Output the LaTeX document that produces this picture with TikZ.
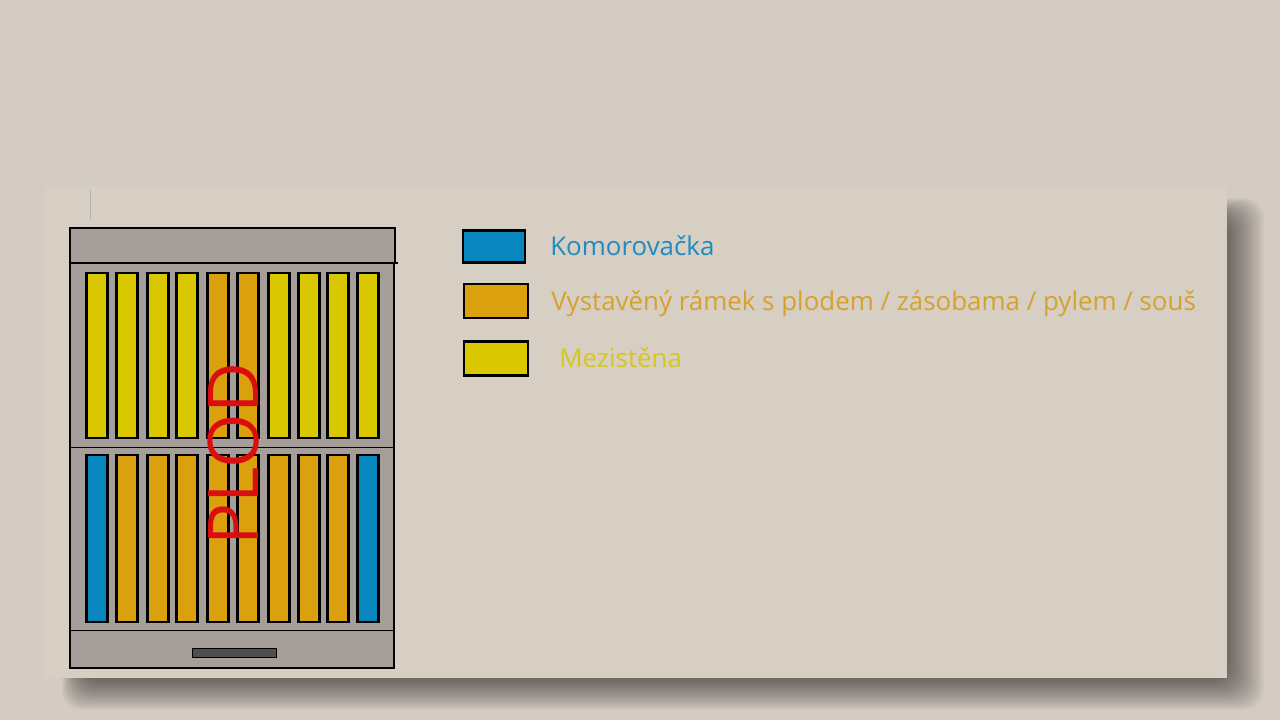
\documentclass[tikz,border=0pt]{standalone}
\usepackage{fontspec}
\setmainfont{Open Sans}
\usetikzlibrary{positioning}

\definecolor{bgout}{RGB}{212,203,194}
\definecolor{panel}{RGB}{215,206,196}
\definecolor{hivegray}{RGB}{166,158,152}
\definecolor{slotgray}{RGB}{80,78,76}
\definecolor{frameyellow}{RGB}{217,199,0}
\definecolor{frameorange}{RGB}{218,160,14}
\definecolor{frameblue}{RGB}{8,134,190}
\definecolor{plodred}{RGB}{218,14,14}
\definecolor{textblue}{RGB}{30,140,190}
\definecolor{textorange}{RGB}{214,162,44}
\definecolor{textyellow}{RGB}{214,198,30}

\tikzset{
  ramek/.style={draw=black, line width=2.8pt},
  hivebox/.style={draw=black, line width=1.6pt, fill=hivegray},
  key/.style={draw=black, line width=2.2pt, minimum width=62pt, minimum height=32pt, inner sep=0pt},
  keytext/.style={font=\fontsize{25.9}{30}\selectfont, inner sep=0pt, text height=18pt, text depth=0pt, anchor=west},
}

\begin{document}
\begin{tikzpicture}[x=1pt,y=-1pt]
        \useasboundingbox (0,0) rectangle (1280,720);
        \fill [bgout] (0,0) rectangle (1280,720);
        % Shadow of the slide.
        \foreach \k in {0,...,19}
          \fill [black, fill opacity=0.027, rounded corners=20pt] ({62+\k},{198+\k}) rectangle ({1264-\k*1.8},{710-\k*1.5});
        \fill [panel] (45,187) rectangle (1227,678);
        \draw [gray!60, line width=0.5pt] (90,190) -- (90,220);

        % Hive.
        \draw [hivebox] (70,263) rectangle (394,668);
        \draw [hivebox] (70,228) rectangle (395,263); % Lid.
        \draw [line width=2pt] (70,263) -- (398,263);
        \draw [line width=1pt] (70,447) -- (394,447);
        \draw [line width=1pt] (70,630) -- (394,630);
        \draw [fill=slotgray, line width=1pt] (192,648) rectangle (276,657); % Entrance.

        % Upper box.
        \foreach \x/\c in {85/frameyellow,115/frameyellow,146/frameyellow,175/frameyellow,206/frameorange,
                           236/frameorange,267/frameyellow,297/frameyellow,326/frameyellow,356/frameyellow}
          \draw [ramek, fill=\c] (\x+1.4,273) rectangle (\x+22.6,438);
        % Lower box.
        \foreach \x/\c in {85/frameblue,115/frameorange,146/frameorange,175/frameorange,206/frameorange,
                           236/frameorange,267/frameorange,297/frameorange,326/frameorange,356/frameblue}
          \draw [ramek, fill=\c] (\x+1.4,455) rectangle (\x+22.6,622);

        \node [rotate=90, text=plodred, font=\fontsize{70}{80}\selectfont, inner sep=0pt] (plod) at (233,454) {PLOD};

        % Legend.
        \node [key, fill=frameblue] (kblue) at (494,246.5) {};
        \node [key, fill=frameorange, minimum width=64pt, minimum height=34pt] (korange) at (496,301) {};
        \node [key, fill=frameyellow, minimum width=64pt, minimum height=34pt] (kyellow) at (496,358.5) {};
        \node [keytext, text=textblue, right=24pt of kblue] (tblue) {Komorovačka};
        \node [keytext, text=textorange, right=22pt of korange] (torange) {Vystavěný rámek s plodem / zásobama / pylem / souš};
        \node [keytext, text=textyellow, right=30pt of kyellow] (tyellow) {Mezistěna};
\end{tikzpicture}
\end{document}
